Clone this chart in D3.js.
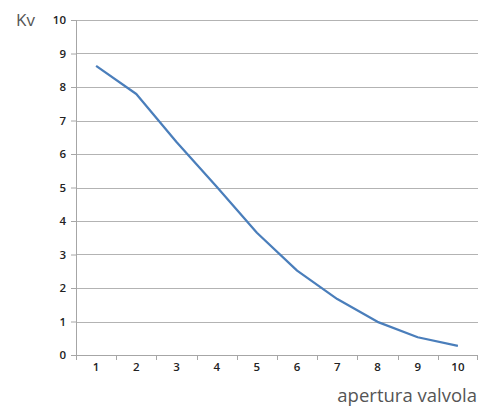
<!DOCTYPE html>
<html lang="it">
<head>
<meta charset="UTF-8">
<title>Kv - apertura valvola</title>
<script src="https://d3js.org/d3.v7.min.js"></script>
<style>
  body { margin: 0; background: #fff; }
  svg text { font-family: "Open Sans", "Noto Sans", sans-serif; }
</style>
</head>
<body>
<div id="chart"></div>
<script>
// data
const positions = [1, 2, 3, 4, 5, 6, 7, 8, 9, 10];
const kvValues = [8.63, 7.79, 6.36, 5.02, 3.65, 2.52, 1.67, 0.99, 0.53, 0.27];
const yTicks = [0, 1, 2, 3, 4, 5, 6, 7, 8, 9, 10];

const width = 481, height = 409;
const margin = { top: 20, right: 3, bottom: 54, left: 76 };
const plotW = width - margin.left - margin.right;
const plotH = height - margin.top - margin.bottom;

const svg = d3.select("#chart").append("svg")
    .attr("width", width)
    .attr("height", height);

const g = svg.append("g")
    .attr("transform", "translate(" + margin.left + "," + margin.top + ")");

const x = d3.scaleBand()
    .domain(positions)
    .range([0, plotW]);

const y = d3.scaleLinear()
    .domain([0, 10])
    .range([plotH, 0]);

// gridlines
g.selectAll(".grid")
    .data(yTicks.filter(d => d > 0))
    .enter().append("line")
    .attr("class", "grid")
    .attr("x1", 0)
    .attr("x2", plotW)
    .attr("y1", d => Math.round(y(d)) + 0.5)
    .attr("y2", d => Math.round(y(d)) + 0.5)
    .attr("stroke", "#b3b3b3")
    .attr("stroke-width", 1);

// y axis
const yAxis = g.append("g")
    .call(d3.axisLeft(y).tickValues(yTicks).tickSize(5).tickPadding(5));
yAxis.select(".domain").attr("stroke", "#a6a6a6").attr("d", "M0.5," + plotH + "V0");
yAxis.selectAll(".tick line").attr("stroke", "#a6a6a6").attr("x1", 0).attr("x2", -5);
yAxis.selectAll(".tick text")
    .attr("x", -10)
    .attr("fill", "#222")
    .style("font-size", "11.5px")
    .style("font-weight", "600");

// x axis with ticks on category boundaries
const xAxis = g.append("g")
    .attr("transform", "translate(0," + plotH + ")")
    .call(d3.axisBottom(x).tickSize(0).tickPadding(8));
xAxis.select(".domain").attr("stroke", "#a6a6a6").attr("d", "M0,0.5H" + plotW);
xAxis.selectAll(".tick text")
    .attr("fill", "#222")
    .style("font-size", "11.5px")
    .style("font-weight", "600");
g.selectAll(".xtick")
    .data(positions)
    .enter().append("line")
    .attr("class", "xtick")
    .attr("x1", d => Math.round(x(d)) + 0.5)
    .attr("x2", d => Math.round(x(d)) + 0.5)
    .attr("y1", plotH)
    .attr("y2", plotH + 5)
    .attr("stroke", "#a6a6a6");
g.append("line")
    .attr("x1", plotW - 0.5).attr("x2", plotW - 0.5)
    .attr("y1", plotH).attr("y2", plotH + 5)
    .attr("stroke", "#a6a6a6");

// the curve
const line = d3.line()
    .x((d, i) => x(positions[i]) + x.bandwidth() / 2)
    .y(d => y(d));

g.append("path")
    .datum(kvValues)
    .attr("fill", "none")
    .attr("stroke", "#4a7ebb")
    .attr("stroke-width", 2.25)
    .attr("stroke-linejoin", "round")
    .attr("d", line);

// labels
svg.append("text")
    .attr("x", 16)
    .attr("y", 26)
    .attr("fill", "#555")
    .style("font-size", "17px")
    .text("Kv");

svg.append("text")
    .attr("x", 477)
    .attr("y", 402)
    .attr("text-anchor", "end")
    .attr("fill", "#555")
    .style("font-size", "18.5px")
    .text("apertura valvola");
</script>
</body>
</html>
